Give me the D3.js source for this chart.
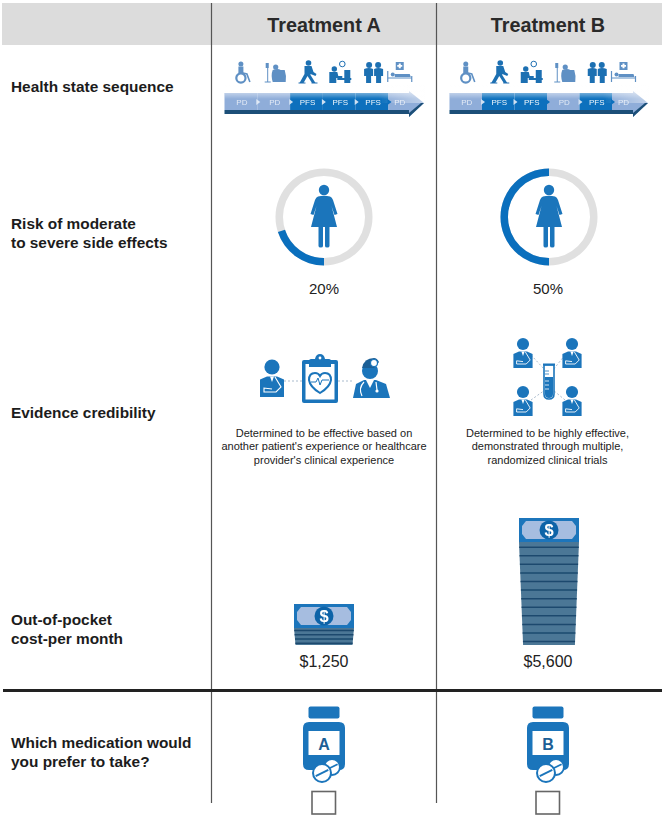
<!DOCTYPE html>
<html><head><meta charset="utf-8">
<script src="https://cdnjs.cloudflare.com/ajax/libs/d3/7.8.5/d3.min.js"></script>
<style>html,body{margin:0;padding:0;background:#fff}svg{display:block}text{font-family:"Liberation Sans",Arial,sans-serif}</style>
</head><body><svg id="c" width="666" height="820"></svg>
<script>
const treatments = ["Treatment A", "Treatment B"];
const sequenceA = ["PD", "PD", "PFS", "PFS", "PFS", "PD"];
const sequenceB = ["PD", "PFS", "PFS", "PD", "PFS", "PD"];
const iconsA = ["wheelchair", "iv", "walk", "desk", "couple", "bed"];
const iconsB = ["wheelchair", "walk", "desk", "iv", "couple", "bed"];
const riskValues = [20, 50];
const costValues = [1250, 5600];
const costLabels = ["$1,250", "$5,600"];
const medLetters = ["A", "B"];
const evidenceA = ["Determined to be effective based on", "another patient's experience or healthcare", "provider's clinical experience"];
const evidenceB = ["Determined to be highly effective,", "demonstrated through multiple,", "randomized clinical trials"];
const rowLabels = [
  [["Health state sequence"], 92],
  [["Risk of moderate", "to severe side effects"], 229],
  [["Evidence credibility"], 418],
  [["Out-of-pocket", "cost-per month"], 625],
  [["Which medication would", "you prefer to take?"], 748]
];

const BLUE = "#0a6fbd", MID = "#1b75bb", LIGHT = "#8fadd9", NAVY = "#1d4f78", GREY = "#e0e0e0", INK = "#222";
const svg = d3.select("#c");
const defs = svg.append("defs");
const fade = defs.append("linearGradient").attr("id", "fade").attr("x1", 0).attr("x2", 0).attr("y1", 0).attr("y2", 1);
fade.append("stop").attr("offset", 0).attr("stop-color", "#fff").attr("stop-opacity", 1);
fade.append("stop").attr("offset", 1).attr("stop-color", "#fff").attr("stop-opacity", 0);
const fadeR = defs.append("linearGradient").attr("id", "fadeR").attr("x1", 0).attr("x2", 1).attr("y1", 0).attr("y2", 0);
fadeR.append("stop").attr("offset", 0).attr("stop-color", "#fff").attr("stop-opacity", 0);
fadeR.append("stop").attr("offset", 1).attr("stop-color", "#fff").attr("stop-opacity", .75);
defs.append("filter").attr("id", "soft").append("feGaussianBlur").attr("stdDeviation", .4);

const col = d3.scalePoint().domain(treatments).range([324, 548]);

// frame
svg.append("rect").attr("x", 2).attr("y", 3).attr("width", 660).attr("height", 42).attr("fill", "#dcdcdc");
[211.5, 436.5].forEach(x => svg.append("line").attr("x1", x).attr("x2", x).attr("y1", 3).attr("y2", 803).attr("stroke", "#555").attr("stroke-width", 1.2));
svg.append("line").attr("x1", 3).attr("x2", 662).attr("y1", 690.5).attr("y2", 690.5).attr("stroke", "#222").attr("stroke-width", 3);

svg.selectAll(".hd").data(treatments).join("text").attr("class", "hd")
  .attr("x", d => col(d)).attr("y", 32).attr("text-anchor", "middle")
  .attr("font-size", 19.8).attr("font-weight", 700).attr("fill", "#2a2a2a").text(d => d);

rowLabels.forEach(([lines, y]) => lines.forEach((t, i) =>
  svg.append("text").attr("x", 11).attr("y", y + i * 19).attr("font-size", 15.4).attr("font-weight", 700).attr("fill", "#1c1c1c").text(t)));

// ---- health state sequence
function stateIcon(g, kind, c) {
  g.attr("fill", c).attr("stroke", "none");
  const line = (d, w = 1.3) => g.append("path").attr("d", d).attr("fill", "none").attr("stroke", c).attr("stroke-width", w);
  const head = (x, y, r = 2.5) => g.append("circle").attr("cx", x).attr("cy", y).attr("r", r);
  const shape = d => g.append("path").attr("d", d);
  if (kind === "wheelchair") {
    head(-1, -9); shape("M-3.5,-6.5 L1.5,-6.5 L1.5,0 L-3.5,0Z");
    g.append("circle").attr("cx", -1).attr("cy", 5).attr("r", 4.6).attr("fill", "none").attr("stroke", c).attr("stroke-width", 2.2);
    line("M1,0 L5,1 L8,9", 1.6);
  } else if (kind === "iv") {
    line("M-7,-10 L-7,9 M-10,9 L-4,9", 1); shape("M-9,-10 h3 v5 h-3Z");
    head(1, -6, 2.6); shape("M-2,-3 Q3,-5 6,-3 L10,-3 Q12,3 11,9 L-2,9 Q-4,2 -2,-3Z");
  } else if (kind === "walk") {
    head(1, -10, 2.8); shape("M-3,-7 L4,-7 L6,-1 L9,1 L8,3 L3,1 L3,2 L8,10 L4.5,10 L0,3 L-4,10 L-8,10 L-3,1Z");
    line("M-9,10 L-2,10 M4,10 L10,10", 1);
  } else if (kind === "desk") {
    g.append("circle").attr("cx", 2).attr("cy", -9).attr("r", 2.8).attr("fill", "none").attr("stroke", c).attr("stroke-width", 1);
    head(-6, -4, 2.7); shape("M-11,-1 L-3,-1 L-2,3 L2,3 L2,5 L-4,5 L-4,10 L-11,10Z");
    shape("M4,-3 L10,-3 L10,10 L4,10Z"); shape("M-3,5 L11,5 L11,7 L-3,7Z");
  } else if (kind === "couple") {
    head(-4, -8, 3); head(5, -8, 3);
    shape("M-9,-4 Q-4,-6 0,-4 L0,3 L-2,3 L-2,10 L-7,10 L-7,3 L-9,3Z");
    shape("M1,-4 Q5,-6 10,-4 L10,3 L8,3 L8,10 L3,10 L3,3 L1,3Z");
  } else {
    shape("M-4,-11 h8 v8 h-8Z"); g.append("path").attr("d", "M-1,-9.5 h2 v1.5 h1.5 v1.8 h-1.5 v1.5 h-2 v-1.5 h-1.5 v-1.8 h1.5Z").attr("fill", "#fff");
    line("M-12,-2 L-12,9 M12,3 L12,9 M-12,5 L12,5", 1.2); head(-7, 1.5, 2); shape("M-5,1 L10,1 L11,4 L-5,4Z");
  }
}
const stateColour = d3.scaleOrdinal().domain(["PD", "PFS"]).range([LIGHT, BLUE]);
function sequence(seq, icons, x0, x1, step) {
  const g = svg.append("g").attr("filter", "url(#soft)");
  const x = d3.scaleLinear().domain([0, 1]).range([x0, x0 + step]);
  const tip = x1, headX = x1 - 15;
  g.append("rect").attr("x", x0).attr("y", 110).attr("width", headX - x0).attr("height", 4).attr("fill", NAVY);
  seq.forEach((s, i) => {
    const right = i === seq.length - 1 ? headX : x(i + 1);
    g.append("rect").attr("x", x(i)).attr("y", 93).attr("width", right - x(i)).attr("height", 17).attr("fill", stateColour(s));
  });
  g.append("path").attr("d", `M${headX},91 L${tip},103 L${headX},117 L${headX},110 L${headX},93Z`).attr("fill", stateColour(seq[seq.length - 1]));
  g.append("path").attr("d", `M${headX},113 L${headX},117 L${tip},103 L${tip - 3},103Z`).attr("fill", NAVY);
  g.append("rect").attr("x", x0).attr("y", 85).attr("width", x1 - x0).attr("height", 14).attr("fill", "url(#fade)");
  g.append("rect").attr("x", headX - 30).attr("y", 85).attr("width", 46).attr("height", 18).attr("fill", "url(#fadeR)").attr("opacity", .6);
  seq.forEach((s, i) => {
    const right = i === seq.length - 1 ? headX : x(i + 1);
    const cx = (x(i) + right) / 2 + 1;
    g.append("text").attr("x", cx).attr("y", 105).attr("text-anchor", "middle").attr("font-size", 8)
      .attr("fill", "#fff").attr("fill-opacity", s === "PD" ? .75 : .95).text(s);
    if (i) g.append("path").attr("d", `M${x(i) - 1},99 L${x(i) + 3},102 L${x(i) - 1},105Z`).attr("fill", seq[i - 1] === s && s === "PD" ? "#dfe8f5" : (s === "PFS" ? "#cfe0f2" : stateColour(seq[i - 1])));
    const ic = g.append("g").attr("transform", `translate(${cx},73)`);
    stateIcon(ic, icons[i], s === "PD" ? "#5f90c4" : "#1f6fb2");
  });
}
sequence(sequenceA, iconsA, 224.5, 424, 32.8);
sequence(sequenceB, iconsB, 449.5, 648, 32.5);

// ---- risk donuts
const arc = d3.arc().innerRadius(41).outerRadius(48.5);
function woman(g) {
  g.attr("fill", MID);
  g.append("circle").attr("cy", -27).attr("r", 5.2);
  g.append("path").attr("d", "M-6,-20.5 Q0,-22 6,-20.5 Q8,-20 9,-17 L13.5,-3 L10.5,-2 L7.5,-11 L13,10 L-13,10 L-7.5,-11 L-10.5,-2 L-13.5,-3 L-9,-17 Q-8,-20 -6,-20.5Z");
  g.append("path").attr("d", "M-5.5,10 h4.5 v19 q0,1.5 -2.2,1.5 q-2.3,0 -2.3,-1.5Z M1,10 h4.5 v19 q0,1.5 -2.3,1.5 q-2.2,0 -2.2,-1.5Z");
}
treatments.forEach((t, i) => {
  const g = svg.append("g").attr("transform", `translate(${col(t) + (i ? 1 : 0)},217)`);
  const frac = d3.scaleLinear().domain([0, 100]).range([0, 2 * Math.PI]);
  g.append("path").attr("d", arc({ startAngle: 0, endAngle: 2 * Math.PI })).attr("fill", GREY);
  g.append("path").attr("d", arc({ startAngle: Math.PI, endAngle: Math.PI + frac(riskValues[i]) })).attr("fill", BLUE);
  woman(g.append("g"));
  svg.append("text").attr("x", col(t)).attr("y", 294).attr("text-anchor", "middle").attr("font-size", 15).attr("fill", INK).text(riskValues[i] + "%");
});

// ---- evidence icons
function patient(x, y, s) {
  const g = svg.append("g").attr("transform", `translate(${x},${y}) scale(${s})`).attr("fill", MID);
  g.append("circle").attr("r", 7.6);
  g.append("path").attr("d", "M-5,9.5 L5,9.5 L12,12.5 L12,30 L-12,30 L-12,12.5Z");
  g.append("path").attr("d", "M-2,9.5 L0,15 L2,9.5Z").attr("fill", "#fff");
  g.append("path").attr("d", "M3,10 L9,20 L4,25 L-8,25 L-8,21 L0,22").attr("fill", "none").attr("stroke", "#fff").attr("stroke-width", 1.1);
}
function dots(x1, y1, x2, y2) {
  svg.append("line").attr("x1", x1).attr("y1", y1).attr("x2", x2).attr("y2", y2).attr("stroke", "#a9bbcd").attr("stroke-width", 1).attr("stroke-dasharray", "2 2");
}
dots(284, 381, 302, 381); dots(338, 381, 354, 381);
patient(272, 367, 1);
const clip = svg.append("g").attr("fill", MID);
clip.append("rect").attr("x", 302).attr("y", 360).attr("width", 36).attr("height", 43).attr("rx", 2);
clip.append("rect").attr("x", 305.5).attr("y", 364).attr("width", 29).attr("height", 35.5).attr("fill", "#fff");
clip.append("path").attr("d", "M309,367 v-6 q0,-2 2,-2 h4 q1,-5 5,-5 q4,0 5,5 h4 q2,0 2,2 v6Z");
clip.append("circle").attr("cx", 320).attr("cy", 358).attr("r", 1.4).attr("fill", "#fff");
clip.append("path").attr("d", "M320,393 Q310,387 309,380 Q309,373 315,373 Q318.5,373 320,376 Q321.5,373 325,373 Q331,373 331,380 Q330,387 320,393Z").attr("fill", "none").attr("stroke", MID).attr("stroke-width", 2);
clip.append("path").attr("d", "M311,382 h5 l2,-4 l2,7 l2,-5 h7").attr("fill", "none").attr("stroke", MID).attr("stroke-width", 1);
const doc = svg.append("g").attr("fill", MID);
doc.append("circle").attr("cx", 370).attr("cy", 371).attr("r", 8);
doc.append("path").attr("d", "M362,368 Q364,358 374,358 Q377,358 379,362 L374,368Z").attr("fill", "#1c5f96");
doc.append("circle").attr("cx", 374).attr("cy", 363).attr("r", 3.5).attr("fill", "#fff").attr("stroke", MID).attr("stroke-width", 1.2);
doc.append("path").attr("d", "M364,380 L376,380 L386,384 L390,398 L353,398 L356,384Z");
doc.append("path").attr("d", "M366,380 L370,388 L374,380Z").attr("fill", "#fff");
doc.append("path").attr("d", "M364,382 Q358,388 362,396 M376,382 L377,390").attr("fill", "none").attr("stroke", "#fff").attr("stroke-width", 1.2);
doc.append("circle").attr("cx", 377).attr("cy", 391).attr("r", 1.6).attr("fill", "#fff");

dots(531, 355, 545, 370); dots(565, 355, 553, 370); dots(531, 400, 545, 390); dots(565, 400, 553, 390);
[[523, 344], [572, 344], [523, 392], [572, 392]].forEach(([x, y]) => patient(x, y, .8));
const tube = svg.append("g");
tube.append("path").attr("d", "M544,365 h10 v29 q0,5 -5,5 q-5,0 -5,-5Z").attr("fill", "#fff").attr("stroke", MID).attr("stroke-width", 1.6);
tube.append("path").attr("d", "M545,377 h8 v17 q0,4 -4,4 q-4,0 -4,-4Z").attr("fill", MID);
tube.append("rect").attr("x", 543).attr("y", 363.5).attr("width", 12).attr("height", 2).attr("fill", MID);
[371, 374, 381, 385, 389].forEach(y => tube.append("line").attr("x1", 545).attr("x2", 549).attr("y1", y).attr("y2", y).attr("stroke", y < 377 ? MID : "#fff").attr("stroke-width", .8));

[evidenceA, evidenceB].forEach((lines, i) => lines.forEach((t, k) =>
  svg.append("text").attr("x", col(treatments[i]) + (i ? -.5 : 0)).attr("y", 437 + k * 13.4).attr("text-anchor", "middle").attr("font-size", 11).attr("fill", INK).text(t)));

// ---- cost stacks
const stackH = d3.scaleLinear().domain([1250, 5600]).range([17, 103]);
const stackBottom = 645, billH = 24;
costValues.forEach((v, i) => {
  const cx = col(treatments[i]) + (i ? 1 : 0);
  const h = stackH(v), top = stackBottom - h, w = 30, taper = 1 + h * .03;
  const g = svg.append("g").attr("filter", "url(#soft)");
  g.append("path").attr("d", `M${cx - w},${top} L${cx + w},${top} L${cx + w - taper},${stackBottom} L${cx - w + taper},${stackBottom}Z`).attr("fill", "#4c7796");
  const n = Math.round(h / (i ? 8.6 : 4.2));
  d3.range(n).forEach(k => {
    const y = top + (k + .6) * h / n, inset = taper * (y - top) / h;
    g.append("line").attr("x1", cx - w + inset).attr("x2", cx + w - inset).attr("y1", y).attr("y2", y).attr("stroke", "#1c4a6e").attr("stroke-width", 1.5);
  });
  const by = top - billH;
  g.append("rect").attr("x", cx - w).attr("y", by).attr("width", 2 * w).attr("height", billH).attr("fill", MID);
  g.append("path").attr("d", `M${cx - 23},${by + 3} L${cx + 23},${by + 3} L${cx + 27},${by + 8} L${cx + 27},${by + 16} L${cx + 23},${by + 21} L${cx - 23},${by + 21} L${cx - 27},${by + 16} L${cx - 27},${by + 8}Z`).attr("fill", "#a6bde0");
  g.append("circle").attr("cx", cx).attr("cy", by + 12).attr("r", 9.5).attr("fill", "#0f64a8");
  g.append("text").attr("x", cx).attr("y", by + 18).attr("text-anchor", "middle").attr("font-size", 16.5).attr("font-weight", 700).attr("fill", "#fff").text("$");
  svg.append("text").attr("x", col(treatments[i])).attr("y", 667).attr("text-anchor", "middle").attr("font-size", 16).attr("fill", INK).text(costLabels[i]);
});

// ---- medication bottles
medLetters.forEach((L, i) => {
  const cx = col(treatments[i]);
  const g = svg.append("g").attr("transform", `translate(${cx},0)`);
  g.append("rect").attr("x", -15.5).attr("y", 706.5).attr("width", 31).attr("height", 12).attr("rx", 2).attr("fill", MID);
  g.append("path").attr("d", "M-15,722 h30 q6,0 6,6 v36 q0,6 -6,6 h-30 q-6,0 -6,-6 v-36 q0,-6 6,-6Z").attr("fill", MID);
  g.append("rect").attr("x", -15.5).attr("y", 731).attr("width", 31).attr("height", 24).attr("fill", "#fff");
  g.append("text").attr("y", 749.5).attr("text-anchor", "middle").attr("font-size", 16).attr("font-weight", 700).attr("fill", "#1c5f96").text(L);
  [[8, 767, 8], [-2, 773, 9]].forEach(([x, y, r]) => {
    g.append("circle").attr("cx", x).attr("cy", y).attr("r", r).attr("fill", "#fff").attr("stroke", MID).attr("stroke-width", 2);
    g.append("line").attr("x1", x - r * .7).attr("x2", x + r * .7).attr("y1", y + r * .35).attr("y2", y - r * .35).attr("stroke", MID).attr("stroke-width", 1.8);
  });
  g.append("rect").attr("x", -12).attr("y", 791.5).attr("width", 23.5).attr("height", 22.5).attr("fill", "#fff").attr("stroke", "#666").attr("stroke-width", 1.6);
});
</script></body></html>
